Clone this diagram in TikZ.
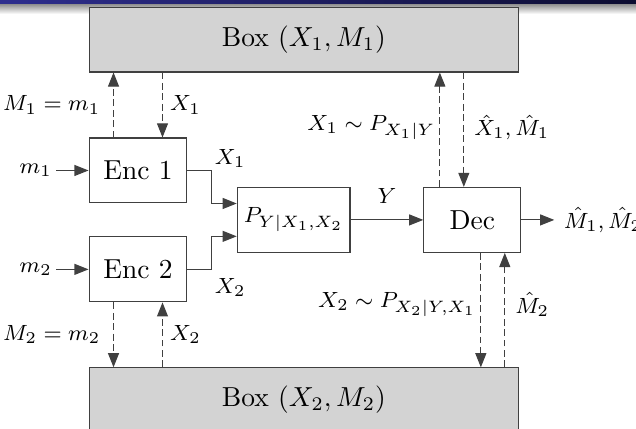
\documentclass[tikz,border=0pt]{standalone}
\usepackage{amsmath,amssymb}
\usepackage{xcolor}
\usepackage{tikz}
\usetikzlibrary{positioning,arrows.meta,calc}
\definecolor{boxgray}{RGB}{211,211,211}
\definecolor{barblue}{RGB}{46,46,142}
\definecolor{barnavy}{RGB}{12,12,48}

\begin{document}
\begin{tikzpicture}[node distance=4.2mm,
  blk/.style={draw=black!75, fill=white, minimum width=12.5mm, minimum height=8.3mm, inner sep=2pt},
  chanbox/.style={blk, minimum width=14.4mm, font=\footnotesize},
  bigbox/.style={draw=black!75, fill=boxgray, minimum width=54.9mm, minimum height=8.2mm},
  arr/.style={-{Triangle[length=1.8mm, width=1.4mm]}, draw=black!75},
  darr/.style={arr, dash pattern=on 2.5pt off 1.3pt},
  lab/.style={font=\footnotesize, inner sep=2.6pt}]
\useasboundingbox (-17.64mm,-33.04mm) rectangle (63.65mm,21.79mm);
% slide header strip
\shade[left color=barblue, right color=barnavy] (-17.64mm,21.15mm) rectangle (63.65mm,21.79mm);
\shade[top color=black!40, bottom color=white] (-17.64mm,20.0mm) rectangle (63.65mm,21.15mm);
% blocks
\node[blk] (enc1) {Enc 1};
\node[blk, below=of enc1] (enc2) {Enc 2};
\coordinate (encmid) at ($(enc1.east)!0.5!(enc2.east)$);
\node[chanbox, right=6.3mm of encmid] (chan) {$P_{Y|X_1,X_2}$};
\node[blk, right=9.3mm of chan, minimum width=12.4mm] (dec) {Dec};
\node[bigbox, above=8.3mm of enc1.north west, anchor=south west] (box1) {Box $(X_1,M_1)$};
\node[bigbox, below=8.3mm of enc2.south west, anchor=north west] (box2) {Box $(X_2,M_2)$};
\node[lab, inner sep=1.5pt, left=4.1mm of enc1] (m1) {$m_1$};
\node[lab, inner sep=1.5pt, left=4.1mm of enc2] (m2) {$m_2$};
\node[lab, inner sep=3.3pt, right=4.2mm of dec] (out) {$\hat{M}_1,\hat{M}_2$};
% solid connectors
\draw[arr] (m1) -- (enc1);
\draw[arr] (m2) -- (enc2);
\draw[arr] (enc1.east) -- ++(3.07mm,0) node[lab, anchor=south west, inner sep=1pt]{$X_1$} |- ([yshift=2.1mm]chan.west);
\draw[arr] (enc2.east) -- ++(3.07mm,0) node[lab, anchor=north west, inner sep=1pt, yshift=-2pt]{$X_2$} |- ([yshift=-2.1mm]chan.west);
\draw[arr] (chan) -- node[lab, above=3pt]{$Y$} (dec);
\draw[arr] (dec) -- (out);
% dashed links to the boxes
\draw[darr] ([xshift=-3.13mm]enc1.north) -- node[lab, left=2pt]{$M_1=m_1$} ([xshift=-3.13mm]enc1.north |- box1.south);
\draw[darr] ([xshift=3.13mm]enc1.north |- box1.south) -- node[lab, right]{$X_1$} ([xshift=3.13mm]enc1.north);
\draw[darr] ([xshift=-3.13mm]enc2.south) -- node[lab, left=2pt]{$M_2=m_2$} ([xshift=-3.13mm]enc2.south |- box2.north);
\draw[darr] ([xshift=3.13mm]enc2.south |- box2.north) -- node[lab, right]{$X_2$} ([xshift=3.13mm]enc2.south);
\draw[darr] ([xshift=-4.15mm]dec.north) -- node[lab, left, inner sep=1.5pt, pos=0.52]{$X_1\sim P_{X_1|Y}$} ([xshift=-4.15mm]dec.north |- box1.south);
\draw[darr] ([xshift=-1.09mm]dec.north |- box1.south) -- node[lab, right=1pt, pos=0.48]{$\hat{X}_1,\hat{M}_1$} ([xshift=-1.09mm]dec.north);
\draw[darr] ([xshift=1.09mm]dec.south) -- node[lab, left, inner sep=1.5pt, pos=0.45]{$X_2\sim P_{X_2|Y,X_1}$} ([xshift=1.09mm]dec.south |- box2.north);
\draw[darr] ([xshift=4.15mm]dec.south |- box2.north) -- node[lab, right=1pt, pos=0.55]{$\hat{M}_2$} ([xshift=4.15mm]dec.south);
\end{tikzpicture}
\end{document}
